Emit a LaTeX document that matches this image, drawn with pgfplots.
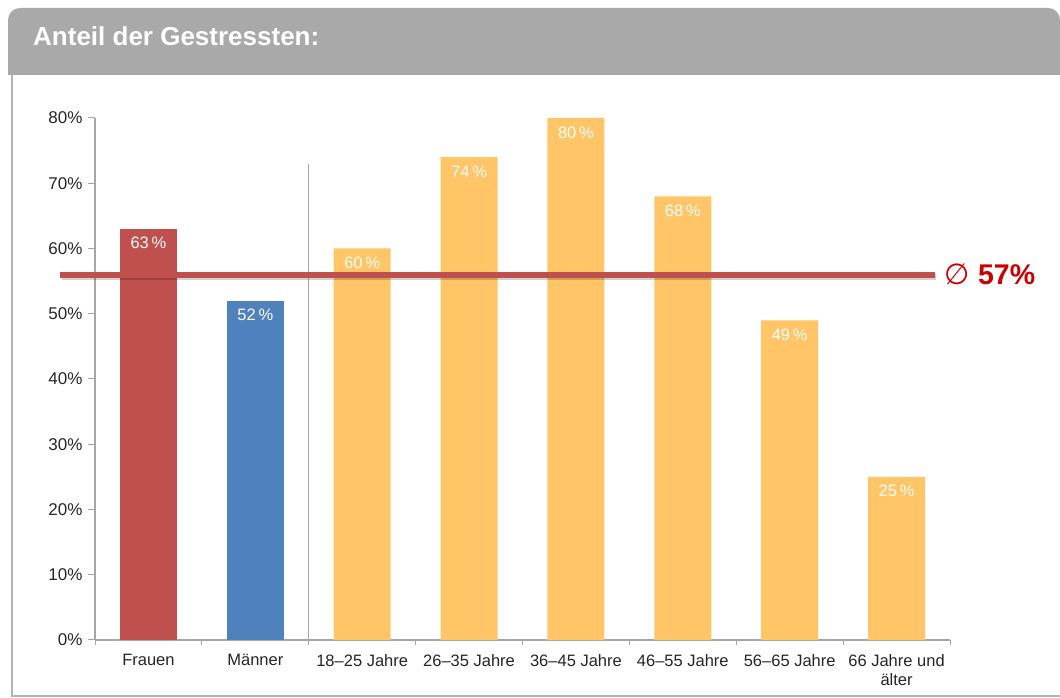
\documentclass[border=0pt]{standalone}
\usepackage{pgfplots}
\pgfplotsset{compat=1.18}
\usepackage{fontspec}
\setmainfont{Liberation Sans}
\newfontfamily\dejavu{DejaVu Sans}
\definecolor{hdr}{HTML}{A9A9A9}
\definecolor{brd}{HTML}{B4B4B4}
\definecolor{cred}{HTML}{C0504D}
\definecolor{cblue}{HTML}{4F81BD}
\definecolor{cyel}{HTML}{FFC566}
\definecolor{axg}{HTML}{A6A6A6}
\definecolor{lbl}{HTML}{CC0000}
\begin{document}
\begin{tikzpicture}
\useasboundingbox (0pt,0pt) rectangle (1060pt,698pt);
\fill[white] (0pt,0pt) rectangle (1060pt,698pt);
% frame
\fill[hdr] (1060pt,623pt) -- (8pt,623pt) [rounded corners=12pt] -- (8pt,690pt) -- (1060pt,690pt) [sharp corners] -- cycle;
\draw[brd, line width=2pt] (12pt,623pt) -- (12pt,1.5pt) -- (1060pt,1.5pt);
\node[anchor=base west, text=white, font=\fontsize{26}{29}\selectfont\bfseries, inner sep=0pt] at (33pt,652pt) {Anteil der Gestressten:};
\begin{axis}[
  at={(95pt,58pt)}, anchor=south west,
  scale only axis, width=855pt, height=522pt,
  xmin=-0.5, xmax=7.5, ymin=0, ymax=80,
  axis x line*=bottom, axis y line*=left,
  axis line style={axg, line width=1.2pt, -},
  ytick={0,10,...,80},
  yticklabel={\pgfmathprintnumber{\tick}\%},
  /pgf/number format/assume math mode=true,
  yticklabel style={font=\fontsize{17}{19}\selectfont, text=black!85, xshift=-2pt},
  xtick={0,...,7},
  xticklabels={Frauen, Männer, 18–25 Jahre, 26–35 Jahre, 36–45 Jahre, 46–55 Jahre, 56–65 Jahre, {66 Jahre und\\älter}},
  xticklabel style={font=\fontsize{16.5}{19}\selectfont, text=black!85, align=center, yshift=-4pt},
  minor xtick={-0.5,0.5,...,7.5},
  tick style={axg, line width=1pt},
  tick align=outside,
  major tick length=7pt,
  minor tick length=5pt,
  x tick style={draw=none},
  minor x tick style={draw=axg},
  ybar, bar width=57pt, bar shift=0pt,
  clip=false,
  nodes near coords={\pgfmathprintnumber{\pgfplotspointmeta}\,\%},
  every node near coord/.append style={anchor=north, yshift=-5pt, text=white, font=\fontsize{16.5}{18}\selectfont},
]
\draw[axg, line width=1pt] (axis cs:1.5,0) -- (axis cs:1.5,73);
\addplot[fill=cred, draw=none] coordinates {(0,63)};
\addplot[fill=cblue, draw=none] coordinates {(1,52)};
\addplot[fill=cyel, draw=none] coordinates {(2,60) (3,74) (4,80) (5,68) (6,49) (7,25)};
\draw[black, opacity=0.18, line width=6pt] (axis cs:-0.81,55.6) -- (axis cs:7.37,55.6);
\draw[cred, line width=6pt] (axis cs:-0.83,56) -- (axis cs:7.36,56);
\node[anchor=west, text=lbl, inner sep=0pt] at (axis cs:7.45,56) {{\dejavu\fontsize{29}{30}\selectfont ∅}\hspace{8pt}{\fontsize{28.5}{30}\selectfont\bfseries 57\%}};
\end{axis}
\end{tikzpicture}
\end{document}
